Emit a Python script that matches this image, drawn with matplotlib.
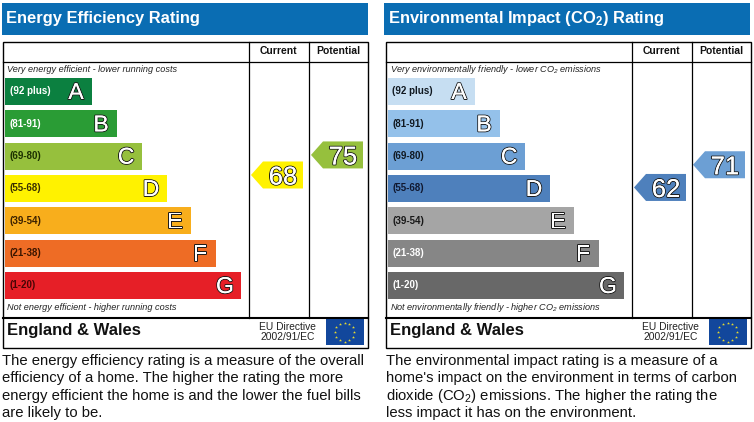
import numpy as np
import matplotlib
matplotlib.use("Agg")
import matplotlib.pyplot as plt
import matplotlib.patheffects as pe
from matplotlib.patches import Rectangle

plt.rcParams['font.family'] = ['Liberation Sans', 'DejaVu Sans']
plt.rcParams['mathtext.default'] = 'regular'

# ==================================================
# DATA
# ==================================================
LETTERS = ["A", "B", "C", "D", "E", "F", "G"]
RANGES = ["(92 plus)", "(81-91)", "(69-80)", "(55-68)", "(39-54)", "(21-38)", "(1-20)"]
BAND_LOW = [92, 81, 69, 55, 39, 21, 1]
BAND_HIGH = [100, 91, 80, 68, 54, 38, 20]
BAR_LENGTHS = [87, 112, 137, 162, 186, 211, 236]

ENERGY_COLORS = ["#0b8040", "#2a9c35", "#96c03d", "#fff200", "#f8ae1c", "#ee6c25", "#e61f27"]
ENERGY_RANGE_COLORS = ["white", "white", "#1c3000", "#3a3000", "#3a2000", "#3a1500", "#4a0505"]
ENERGY_CURRENT = 68
ENERGY_POTENTIAL = 75

CO2_COLORS = ["#c6def2", "#94c1ea", "#6c9fd4", "#4e80bc", "#a5a5a5", "#868686", "#686868"]
CO2_RANGE_COLORS = ["#101820", "#101820", "#101820", "#101830", "#181818", "white", "white"]
CO2_CURRENT = 62
CO2_POTENTIAL = 71

ENERGY_TEXT = ["The energy efficiency rating is a measure of the overall",
               "efficiency of a home. The higher the rating the more",
               "energy efficient the home is and the lower the fuel bills",
               "are likely to be."]
CO2_TEXT = ["The environmental impact rating is a measure of a",
            "home's impact on the environment in terms of carbon",
            "dioxide (CO$_2$) emissions. The higher the rating the",
            "less impact it has on the environment."]

HEADER_BLUE = "#0a6db3"
TOP_Y = 78
BAR_H = 27
PITCH = 32.33


def band_of(rating):
    for i, (lo, hi) in enumerate(zip(BAND_LOW, BAND_HIGH)):
        if lo <= rating <= hi:
            return i
    return 0


def rating_y(rating):
    # arrow sits inside its band, in proportion to where the rating falls
    i = band_of(rating)
    frac = (rating - BAND_LOW[i]) / (BAND_HIGH[i] - BAND_LOW[i])
    return TOP_Y + PITCH * i + BAR_H * (1 - frac)


def outlined(ax, x, y, s, size):
    ax.text(x, y, s, fontsize=size, color="white", ha="center", va="center_baseline",
            path_effects=[pe.withStroke(linewidth=1.4, foreground="#1a1a1a"),
                          pe.Normal()], zorder=5)


def draw_arrow(ax, x0, rating, color):
    yc = rating_y(rating)
    xs = [x0, x0 + 12, x0 + 52, x0 + 52, x0 + 12]
    ys = [yc, yc - 13.5, yc - 13.5, yc + 13.5, yc + 13.5]
    ax.fill(xs, ys, color=color, lw=0, zorder=3)
    outlined(ax, x0 + 32, yc, str(rating), 18.5)


def draw_flag(ax, x0):
    ax.add_patch(Rectangle((x0, 319), 38, 26, facecolor="#12479c", edgecolor="none", zorder=3))
    ang = np.deg2rad(np.arange(0, 360, 30))
    ax.scatter(x0 + 19 + 9.5 * np.cos(ang), 332 + 9.5 * np.sin(ang), s=5, marker="*",
               color="#e8dc30", linewidths=0, zorder=4)


def draw_panel(ax, dx, header_dx, title, top_note, bottom_note, colors, range_colors,
               current, potential, potential_x, body):
    # header band
    ax.add_patch(Rectangle((header_dx + 2, 3), 366, 32, facecolor=HEADER_BLUE, edgecolor="none"))
    ax.text(header_dx + 6.5, 19, title, fontsize=11.85, fontweight="bold", color="white",
            ha="left", va="center")

    # table frame and rules
    ax.add_patch(Rectangle((dx + 2.5, 41.5), 365.5, 306.5, fill=False,
                           edgecolor="black", linewidth=1.0, zorder=4))
    ax.plot([dx + 2.5, dx + 368], [61.5, 61.5], color="black", lw=0.9, zorder=4)
    ax.plot([dx + 2.5, dx + 368], [317.5, 317.5], color="black", lw=1.5, zorder=4)
    for xc in (248.5, 308.5):
        ax.plot([dx + xc, dx + xc], [41.5, 317.5], color="black", lw=0.9, zorder=4)
    ax.text(dx + 278, 51.5, "Current", fontsize=7.5, fontweight="bold", ha="center", va="center", color="#111111")
    ax.text(dx + 338, 51.5, "Potential", fontsize=7.5, fontweight="bold", ha="center", va="center", color="#111111")

    # bands
    ys = [TOP_Y + PITCH * i + BAR_H / 2 for i in range(len(LETTERS))]
    ax.barh(ys, BAR_LENGTHS, height=BAR_H, left=dx + 5, color=colors, linewidth=0, zorder=2)
    for y, length, letter, rng, rc in zip(ys, BAR_LENGTHS, LETTERS, RANGES, range_colors):
        ax.text(dx + 9.5, y, rng, fontsize=7.0, fontweight="bold", color=rc, ha="left", va="center", zorder=5)
        outlined(ax, dx + 5 + length - 16, y - 1.5, letter, 16.5)

    ax.text(dx + 7, 69, top_note, fontsize=6.55, style="italic", color="#222222", ha="left", va="center")
    ax.text(dx + 7, 308, bottom_note, fontsize=6.55, style="italic", color="#222222", ha="left", va="center")

    draw_arrow(ax, dx + 251, current, colors[band_of(current)])
    draw_arrow(ax, potential_x, potential, colors[band_of(potential)])

    # footer
    ax.text(dx + 7, 331, "England & Wales", fontsize=11.95, fontweight="bold", ha="left", va="center", color="#111111")
    ax.text(dx + 287.5, 327.3, "EU Directive", fontsize=7.4, ha="center", va="center", color="#222222")
    ax.text(dx + 287.5, 337.3, "2002/91/EC", fontsize=7.4, ha="center", va="center", color="#222222")
    draw_flag(ax, dx + 325.7)

    # description
    for i, line in enumerate(body):
        ax.text(dx + 2.5, 360.7 + 17.6 * i, line, fontsize=10.74, ha="left", va="center", color="#111111")


# ==================================================
# FIGURE
# ==================================================
fig = plt.figure(figsize=(7.54, 4.22), dpi=100)
ax = fig.add_axes([0, 0, 1, 1])
ax.set_xlim(0, 754)
ax.set_ylim(422, 0)
ax.axis("off")

draw_panel(ax, 0, 0, "Energy Efficiency Rating",
           "Very energy efficient - lower running costs",
           "Not energy efficient - higher running costs",
           ENERGY_COLORS, ENERGY_RANGE_COLORS, ENERGY_CURRENT, ENERGY_POTENTIAL, 311, ENERGY_TEXT)
draw_panel(ax, 383, 382, "Environmental Impact (CO$_2$) Rating",
           "Very environmentally friendly - lower CO$_2$ emissions",
           "Not environmentally friendly - higher CO$_2$ emissions",
           CO2_COLORS, CO2_RANGE_COLORS, CO2_CURRENT, CO2_POTENTIAL, 693, CO2_TEXT)

fig.savefig("out.png", dpi=100)
